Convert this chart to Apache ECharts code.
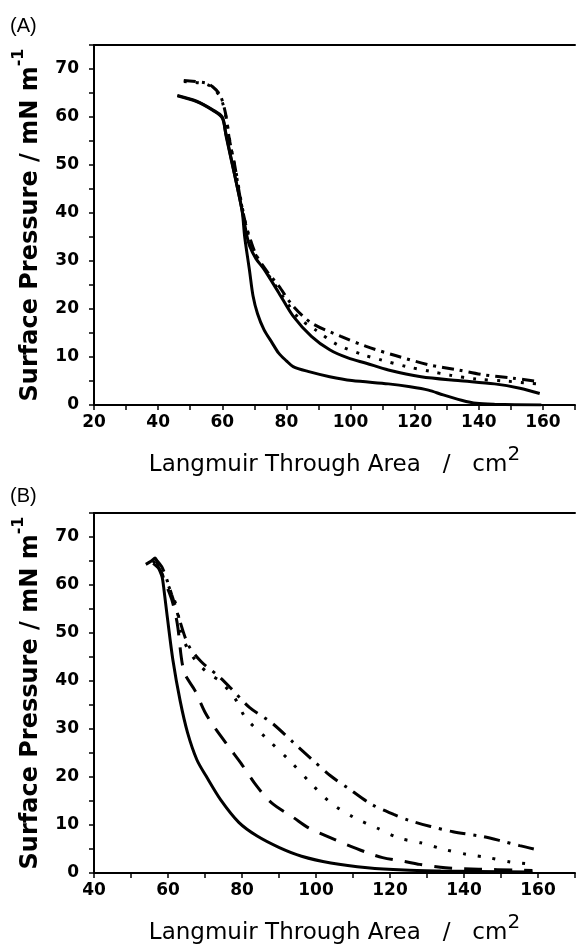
<!DOCTYPE html>
<html>
<head>
<meta charset="utf-8">
<script src="https://cdn.jsdelivr.net/npm/echarts@6/dist/echarts.min.js"></script>
<style>
  html, body { margin: 0; padding: 0; background: #fff; }
  #main { width: 578px; height: 951px; }
</style>
</head>
<body>
<div id="main"></div>
<script>
// panel (A): [area, pressure]
var aSolidLow = [[46,64.5],[52,63.3],[57,61.5],[60,60],[61,57],[62.8,51.3],[64.5,46],[66.2,40.4],[67,35],[68.5,28],[69.6,22.7],[71,19],[73,15.7],[75.5,13],[77.6,10.8],[80,9.2],[82.1,8],[86.7,7],[93.5,5.9],[100.4,5.1],[111.8,4.4],[118.6,3.8],[124.3,3.1],[128.9,2.1],[134.6,1],[139.2,0.35],[144.9,0.15],[159.5,0]];
var aSolidMid = [[46,64.4],[52,63.2],[57,61.4],[60,59.8],[61.2,56],[63,50.5],[64.8,45],[66.5,39.5],[67.6,35.5],[68.5,33.2],[70.5,30.5],[73,28.3],[77.6,23.4],[82.1,18.5],[87.8,14.3],[93.5,11.5],[99.2,9.8],[104.9,8.7],[111.8,7.3],[122,5.9],[133.5,5.1],[144.9,4.4],[152.8,3.5],[159,2.4]];
var aDashDot = [[48,67.6],[54.8,67.1],[57,66.3],[59.3,64.6],[61,60.8],[62.2,55.4],[63.9,49.9],[65.6,43.1],[67.3,37.7],[69,34],[70.7,31.1],[74,27.8],[77.6,24.8],[82.1,20.6],[87.8,17.1],[97,14.3],[104.9,12.2],[114,10.3],[124.3,8.4],[133.5,7.3],[141.4,6.3],[150.5,5.6],[158.5,4.9]];
var aDotted = [[48,67.4],[54.8,66.9],[57.5,65.8],[59.8,63.5],[61.3,59.5],[62.6,54],[64.3,48.5],[66,42],[67.7,36.5],[69.5,32.5],[72,29.5],[76,25.5],[80,21.5],[84,18],[89,15.7],[95.8,12.6],[103.8,10.5],[109.5,9.4],[117.5,8],[124.9,7],[131.1,6.2],[139.2,5.4],[148,5],[157.9,4.4]];

// panel (B)
var bSolid = [[54,64.3],[55.5,65],[56.5,65.6],[57.5,63.5],[58.4,61.7],[58.8,59.7],[59.8,53.4],[61.3,44.5],[63.3,35.8],[65.3,29.2],[67.8,23.6],[70.3,20.2],[74.2,15.3],[79.2,10.5],[84.1,7.7],[90.1,5.3],[96.1,3.5],[104,2.1],[113.9,1.1],[123.8,0.6],[133.7,0.4],[143.7,0.3],[158.5,0.2]];
var bDashed = [[56,64.5],[58,63],[59,61],[61,57],[62.5,52],[64.3,42],[67.3,38],[70,33.5],[72.7,30.2],[76.7,26],[79.7,22.9],[84,18.1],[88,14.6],[94,11.5],[98,9.4],[104,7.3],[108,6],[114,4.2],[118,3.2],[124,2.4],[128,1.8],[135,1.1],[144,0.8],[154,0.6],[158.5,0.5]];
var bDotted = [[56,65],[57,64],[60,60],[62.5,55],[63.5,50],[65.5,46.5],[68,43.8],[71,41.5],[74,40],[78,36.5],[81,32.3],[87,27.8],[93,23.3],[98.5,18.8],[104,14.6],[110.4,11.5],[116.4,9.4],[122.3,7.3],[128.3,6.3],[134.7,4.9],[140.7,3.9],[146.6,3.2],[152.6,2.3],[159,1.8]];
var bDashDot = [[56.5,65.5],[58.5,63.5],[61,58],[63,53],[65.5,47.5],[69,44],[73.7,41],[77,38.5],[82,34.5],[88,31.3],[94,27.1],[99,23.6],[104,20.2],[109,17.5],[115,14.3],[121,12.2],[125,11],[131,9.7],[137,8.6],[145,7.6],[150,6.7],[155,5.7],[159.5,4.9]];

var xMinA = 20, xMinB = 40, xMax = 170;
var yMin = 0, yMax = 75;

var tickFont = 'DejaVu Sans';

function xAxisOf(gridIndex, min) {
  return {
    type: 'value', gridIndex: gridIndex, position: 'bottom',
    min: min, max: xMax, interval: 10,
    splitLine: { show: false },
    axisLine: { onZero: false, lineStyle: { color: '#000', width: 2 } },
    axisTick: { length: 5, lineStyle: { color: '#000', width: 1.5 } },
    axisLabel: {
      color: '#000', fontFamily: tickFont, fontWeight: 'bold', fontSize: 17, margin: 9,
      formatter: function (v) { return (v % 20 === 0 && v <= 160) ? v : ''; }
    },
    name: '{t|Langmuir Through Area   /   cm}{s|2}',
    nameLocation: 'middle',
    nameGap: 40,
    nameTextStyle: {
      rich: {
        t: { fontFamily: 'DejaVu Sans', fontSize: 23, color: '#000', lineHeight: 32, verticalAlign: 'bottom' },
        s: { fontFamily: 'DejaVu Sans', fontSize: 20, color: '#000', lineHeight: 20, verticalAlign: 'top' }
      }
    }
  };
}

function topBorder(gridIndex, min) {
  return {
    type: 'value', gridIndex: gridIndex, position: 'top', min: min, max: xMax,
    axisLine: { onZero: false, lineStyle: { color: '#000', width: 2 } },
    axisTick: { show: false }, axisLabel: { show: false }, splitLine: { show: false }
  };
}

function yAxisOf(gridIndex) {
  return {
    type: 'value', gridIndex: gridIndex,
    min: yMin, max: yMax, interval: 5,
    splitLine: { show: false },
    axisLine: { show: true, onZero: false, lineStyle: { color: '#000', width: 2 } },
    axisTick: { show: true, length: 5, lineStyle: { color: '#000', width: 1.5 } },
    axisLabel: {
      color: '#000', fontFamily: tickFont, fontWeight: 'bold', fontSize: 17, margin: 15,
      formatter: function (v) { return (v % 10 === 0 && v <= 70) ? v : ''; }
    },
    name: '{t|Surface Pressure / mN m}{s|-1}',
    nameLocation: 'middle',
    nameGap: 51,
    nameTextStyle: {
      rich: {
        t: { fontFamily: 'DejaVu Sans', fontWeight: 'bold', fontSize: 24, color: '#000', lineHeight: 32, verticalAlign: 'bottom' },
        s: { fontFamily: 'DejaVu Sans', fontWeight: 'bold', fontSize: 16, color: '#000', lineHeight: 18, verticalAlign: 'top' }
      }
    }
  };
}

function curve(data, xi, yi, dash) {
  return {
    type: 'line', xAxisIndex: xi, yAxisIndex: yi,
    data: data, showSymbol: false, smooth: 0.3,
    lineStyle: { color: '#000', width: 3, type: dash },
    silent: true
  };
}

var chartDom = document.getElementById('main');
var myChart = echarts.init(chartDom);
var option;

option = {
  animation: false,
  backgroundColor: '#fff',
  graphic: [
    { type: 'text', left: 10, top: 16, style: { text: '(A)', fontFamily: 'Liberation Sans', fontSize: 20, fill: '#000' } },
    { type: 'text', left: 10, top: 486, style: { text: '(B)', fontFamily: 'Liberation Sans', fontSize: 20, fill: '#000' } }
  ],
  grid: [
    { left: 94, top: 45, width: 484, height: 360 },
    { left: 94, top: 513, width: 484, height: 360 }
  ],
  xAxis: [
    xAxisOf(0, xMinA),
    topBorder(0, xMinA),
    xAxisOf(1, xMinB),
    topBorder(1, xMinB)
  ],
  yAxis: [
    yAxisOf(0),
    yAxisOf(1)
  ],
  series: [
    curve(aSolidLow, 0, 0, 'solid'),
    curve(aSolidMid, 0, 0, 'solid'),
    curve(aDashDot, 0, 0, [12, 6, 3, 6]),
    curve(aDotted, 0, 0, [3, 9]),
    curve(bSolid, 2, 1, 'solid'),
    curve(bDashed, 2, 1, [18, 12]),
    curve(bDotted, 2, 1, [3, 12]),
    curve(bDashDot, 2, 1, [16, 8, 3, 8])
  ]
};

option && myChart.setOption(option);
</script>
</body>
</html>
